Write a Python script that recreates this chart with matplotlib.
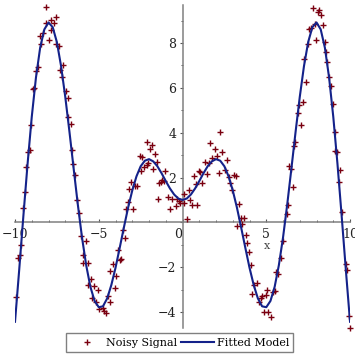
import matplotlib
matplotlib.use('Agg')
import matplotlib.pyplot as plt
from matplotlib.lines import Line2D
from matplotlib.ticker import FuncFormatter, MultipleLocator

# noisy samples
noise_x = [-9.92, -9.80, -9.70, -9.62, -9.50, -9.38, -9.32, -9.20, -9.08, -9.04,
           -8.94, -8.84, -8.72, -8.60, -8.50, -8.42, -8.30, -8.18, -8.13, -8.00,
           -7.88, -7.84, -7.68, -7.56, -7.53, -7.40, -7.29, -7.17, -7.11, -6.96,
           -6.84, -6.83, -6.67, -6.57, -6.53, -6.39, -6.27, -6.19, -6.07, -5.97,
           -5.93, -5.79, -5.67, -5.63, -5.47, -5.39, -5.31, -5.17, -5.07, -4.99,
           -4.77, -4.67, -4.57, -4.47, -4.35, -4.31, -4.15, -4.05, -3.99, -3.87,
           -3.73, -3.67, -3.57, -3.43, -3.37, -3.28, -3.17, -3.07, -2.95, -2.83,
           -2.74, -2.53, -2.47, -2.41, -2.28, -2.14, -2.11, -2.04, -1.92, -1.84,
           -1.78, -1.66, -1.54, -1.48, -1.38, -1.30, -1.24, -1.10, -1.04, -0.88,
           -0.76, -0.60, -0.36, -0.32, -0.24, -0.14, 0.06, 0.06, 0.26, 0.36,
           0.46, 0.56, 0.68, 0.80, 0.86, 0.96, 1.06, 1.16, 1.36, 1.46,
           1.60, 1.64, 1.76, 1.92, 2.05, 2.16, 2.26, 2.35, 2.51, 2.63,
           2.75, 2.83, 2.95, 3.07, 3.19, 3.25, 3.37, 3.49, 3.55, 3.69,
           3.81, 3.87, 3.97, 4.09, 4.15, 4.29, 4.43, 4.57, 4.71, 4.77,
           4.87, 5.01, 5.05, 5.13, 5.27, 5.43, 5.53, 5.61, 5.71, 5.89,
           6.01, 6.23, 6.29, 6.37, 6.45, 6.57, 6.67, 6.73, 6.90, 6.97,
           7.05, 7.21, 7.27, 7.39, 7.51, 7.54, 7.66, 7.80, 7.89, 7.98,
           8.08, 8.17, 8.26, 8.40, 8.49, 8.55, 8.65, 8.76, 8.84, 8.96,
           9.10, 9.12, 9.20, 9.36, 9.43, 9.55, 9.73, 9.83, 9.96, 10.0]
noise_y = [-3.33, -1.61, -1.47, -1.01, 0.65, 1.36, 2.46, 3.12, 3.23, 4.34,
           5.94, 5.99, 6.76, 6.93, 8.30, 7.94, 8.44, 8.89, 9.62, 8.12,
           9.02, 8.60, 8.89, 9.18, 7.97, 7.87, 6.79, 6.49, 7.02, 5.84,
           5.54, 4.71, 4.39, 3.23, 2.61, 2.09, 1.01, 0.43, -0.62, -1.82,
           -1.48, -0.83, -1.82, -2.80, -2.55, -3.36, -2.83, -3.54, -3.04, -3.88,
           -3.84, -3.96, -4.03, -3.28, -3.54, -2.18, -1.88, -2.93, -2.41, -1.24,
           -1.69, -1.63, -0.36, -0.68, 0.61, 0.89, 1.48, 1.82, 0.61, 1.60,
           1.63, 2.95, 2.31, 2.90, 2.46, 2.58, 3.57, 2.64, 3.26, 3.45,
           2.39, 3.05, 2.68, 1.05, 1.76, 1.82, 1.91, 1.85, 2.31, 1.12,
           0.61, 1.02, 0.71, 1.02, 0.95, 0.87, 1.27, 0.86, 0.16, 1.45,
           1.01, 0.79, 2.07, 1.69, 0.79, 2.28, 2.24, 1.76, 2.68, 2.16,
           2.64, 3.54, 2.86, 3.27, 2.96, 2.18, 4.03, 3.14, 2.32, 2.79,
           2.03, 1.75, 1.42, 2.12, 2.07, -0.18, 0.83, 0.21, -0.09, 0.21,
           -0.58, -0.92, -1.32, -1.91, -3.21, -2.81, -2.70, -3.56, -3.39, -3.29,
           -4.00, -3.24, -3.02, -4.00, -4.21, -3.10, -3.05, -2.21, -2.31, -1.61,
           -0.83, 0.36, 0.76, 2.50, 2.39, 1.57, 3.42, 3.60, 4.86, 5.24,
           4.34, 5.38, 7.27, 6.27, 7.97, 8.61, 8.68, 9.55, 8.86, 8.12,
           9.40, 9.47, 9.25, 8.80, 8.05, 7.58, 7.14, 6.50, 6.08, 5.27,
           4.03, 3.20, 3.12, 1.79, 2.35, 0.47, -1.84, -2.14, -4.18, -4.70]

# fitted curve
model_x = [-10.0, -9.75, -9.5, -9.25, -9.0, -8.75, -8.5, -8.25, -8.0, -7.75,
           -7.5, -7.25, -7.0, -6.75, -6.5, -6.25, -6.0, -5.75, -5.5, -5.25,
           -5.0, -4.75, -4.5, -4.25, -4.0, -3.75, -3.5, -3.25, -3.0, -2.75,
           -2.5, -2.25, -2.0, -1.75, -1.5, -1.25, -1.0, -0.75, -0.5, -0.25,
           0.0, 0.25, 0.5, 0.75, 1.0, 1.25, 1.5, 1.75, 2.0, 2.25,
           2.5, 2.75, 3.0, 3.25, 3.5, 3.75, 4.0, 4.25, 4.5, 4.75,
           5.0, 5.25, 5.5, 5.75, 6.0, 6.25, 6.5, 6.75, 7.0, 7.25,
           7.5, 7.75, 8.0, 8.25, 8.5, 8.75, 9.0, 9.25, 9.5, 9.75, 10.0]
model_y = [-4.44, -2.12, 0.29, 2.61, 4.71, 6.46, 7.79, 8.61, 8.92, 8.71,
           8.04, 6.97, 5.60, 4.04, 2.40, 0.79, -0.68, -1.92, -2.88, -3.51,
           -3.79, -3.75, -3.40, -2.80, -2.03, -1.14, -0.23, 0.65, 1.42, 2.05,
           2.50, 2.75, 2.82, 2.72, 2.50, 2.19, 1.84, 1.51, 1.24, 1.06,
           1.00, 1.06, 1.24, 1.51, 1.84, 2.19, 2.50, 2.72, 2.82, 2.75,
           2.50, 2.05, 1.42, 0.65, -0.23, -1.14, -2.03, -2.80, -3.40, -3.75,
           -3.79, -3.51, -2.88, -1.92, -0.68, 0.79, 2.40, 4.04, 5.60, 6.97,
           8.04, 8.71, 8.92, 8.61, 7.79, 6.46, 4.71, 2.61, 0.29, -2.12, -4.44]

series_labels = ['Noisy Signal', 'Fitted Model']

plt.rcParams['font.family'] = ['DejaVu Serif']
point_color = '#7a0010'
line_color = '#14228a'
axis_color = '#808080'

fig = plt.figure(figsize=(3.55, 3.55), dpi=100)
ax = fig.add_axes([0.0423, 0.0772, 0.9437, 0.9087])

ax.plot(noise_x, noise_y, linestyle='none', marker='+', markersize=4.5,
        markeredgewidth=1.0, color=point_color, clip_on=False, zorder=3)
ax.plot(model_x, model_y, color=line_color, linewidth=1.5, zorder=4)

ax.set_xlim(-10, 10)
ax.set_ylim(-4.7, 9.7)

# axes crossing at the origin
for side in ['top', 'right']:
    ax.spines[side].set_visible(False)
for side in ['left', 'bottom']:
    ax.spines[side].set_position(('data', 0))
    ax.spines[side].set_color(axis_color)
    ax.spines[side].set_linewidth(1.1)

ax.xaxis.set_major_locator(MultipleLocator(5))
ax.xaxis.set_minor_locator(MultipleLocator(1))
ax.yaxis.set_major_locator(MultipleLocator(2))
ax.yaxis.set_minor_locator(MultipleLocator(1))


def fmt(v, pos):
    return f'{v:g}'.replace('-', '\u2212')


def fmt_y(v, pos):
    return '' if v == 0 else fmt(v, pos)


ax.xaxis.set_major_formatter(FuncFormatter(fmt))
ax.yaxis.set_major_formatter(FuncFormatter(fmt_y))

ax.tick_params(axis='x', which='major', direction='in', length=2.5, width=0.8,
               color='#555555', labelsize=9, labelcolor='#222222', pad=4)
ax.tick_params(axis='x', which='minor', direction='in', length=1.8, width=0.7,
               color='#555555')
ax.tick_params(axis='y', which='major', direction='out', length=2.5, width=0.8,
               color='#555555', labelsize=9, labelcolor='#222222', pad=2)
ax.tick_params(axis='y', which='minor', direction='out', length=1.8, width=0.7,
               color='#555555')

for lbl in ax.get_xticklabels():
    if lbl.get_text() == '0':
        lbl.set_horizontalalignment('right')

ax.text(5.03, -1.08, 'x', fontsize=8, color='#444444', ha='center', va='center')

handles = [
    Line2D([], [], linestyle='none', marker='+', markersize=4.5,
           markeredgewidth=1.0, color=point_color),
    Line2D([], [], color=line_color, linewidth=1.5),
]
fig.legend(handles, series_labels, loc='center', bbox_to_anchor=(0.506, 0.035),
           ncol=2, fontsize=8, frameon=True, fancybox=False, framealpha=1,
           edgecolor=axis_color, handlelength=3.0, handletextpad=0.2,
           columnspacing=0.35, borderpad=0.4)

fig.savefig('out.png', dpi=100)
